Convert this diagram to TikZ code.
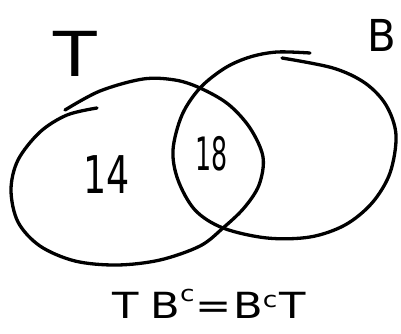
\documentclass[tikz,border=0pt]{standalone}
\usepackage{fontspec}
\setmainfont{DejaVu Sans}
\begin{document}
\begin{tikzpicture}[x=1pt,y=-1pt,
  stroke/.style={line width=3.3pt,line cap=round,line join=round,black},
  hand/.style={inner sep=0pt,outer sep=0pt,text=black}]
\useasboundingbox (0,0) rectangle (401,333);
% set T
\draw[stroke] plot[smooth,tension=0.55] coordinates {
  (65,110) (100,91) (143,79) (175,80) (200,88) (228,104) (250,128) (263,157) (259,185)
  (244,208) (223,228) (200,246) (160,260) (117,265) (75,261) (40,246) (18,222) (11,190) (18,160) (40,132)
  (67,115) (97,108)};
% set B
\draw[stroke] plot[smooth,tension=0.55] coordinates {
  (282,58) (333,68) (365,83) (386,105) (396,135) (390,173) (372,203) (345,225) (310,237)
  (267,238) (223,228) (195,210) (178,180) (173,150) (182,115) (200,88) (225,68) (250,57) (277,52) (310,53)};
% labels
\node[hand,xscale=1.15] (lT) at (75,54) {\fontsize{62}{62}\selectfont T};
\node[hand,xscale=0.95] (lB) at (382,35) {\fontsize{44}{44}\selectfont B};
\node[hand,xscale=0.7] (n14) at (107,175) {\fontsize{52}{52}\selectfont 14};
\node[hand,xscale=0.55] (n18) at (212,154) {\fontsize{46}{46}\selectfont 18};
\node[hand,anchor=base west,xscale=1.2] (eq) at (112,318) {\fontsize{36}{36}\selectfont T\hspace{10pt}B\raisebox{17pt}{\fontsize{22}{22}\selectfont c}\hspace{1pt}=\hspace{1pt}B\raisebox{11pt}{\fontsize{22}{22}\selectfont c}\hspace{2pt}T};
\end{tikzpicture}
\end{document}
